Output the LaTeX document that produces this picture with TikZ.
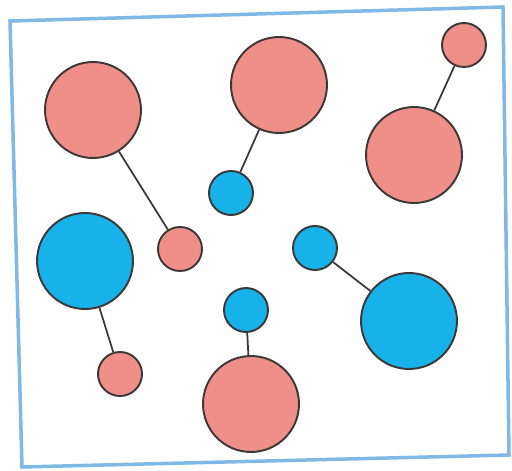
\documentclass[tikz,border=0pt]{standalone}
\usepackage{tikz}
\definecolor{pinkatom}{RGB}{240,142,136}
\definecolor{blueatom}{RGB}{24,178,234}
\definecolor{frameblue}{RGB}{128,184,230}
\definecolor{rim}{RGB}{60,56,56}
\tikzset{%
    atom/.style={inner sep=0pt,circle,draw=rim,line width=1.1pt},
    big/.style={atom,minimum size=1.92cm},
    small/.style={atom,minimum size=0.88cm},
    bond/.style={draw=rim,line width=1pt}
}

\begin{document}
\begin{tikzpicture}[x=0.02cm,y=-0.02cm]
        \useasboundingbox (0,0) rectangle (512,471);
        \draw[frameblue, line width=2pt] (10,21) -- (503,7) -- (509,455) -- (22,467) -- cycle;

        \node[big,fill=pinkatom] (p1) at (93,110){};
        \node[small,fill=pinkatom] (p1s) at (180,249){};

        \node[big,fill=pinkatom] (p2) at (279,85){};
        \node[small,fill=blueatom] (b2s) at (231,193){};

        \node[small,fill=pinkatom] (p3s) at (464,45){};
        \node[big,fill=pinkatom] (p3) at (414,155){};

        \node[big,fill=blueatom] (b4) at (85,261){};
        \node[small,fill=pinkatom] (p4s) at (120,374){};

        \node[small,fill=blueatom] (b5s) at (315,248){};
        \node[big,fill=blueatom] (b5) at (409,321){};

        \node[small,fill=blueatom] (b6s) at (246,310){};
        \node[big,fill=pinkatom] (p6) at (251,404){};

        \draw[bond] (p1) -- (p1s);
        \draw[bond] (p2) -- (b2s);
        \draw[bond] (p3s) -- (p3);
        \draw[bond] (b4) -- (p4s);
        \draw[bond] (b5s) -- (b5);
        \draw[bond] (b6s) -- (p6);
    \end{tikzpicture}
\end{document}
